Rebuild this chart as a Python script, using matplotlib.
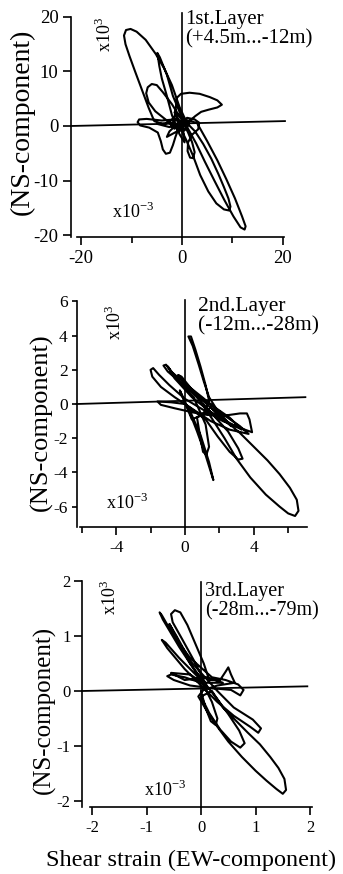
import matplotlib
matplotlib.use("Agg")
import matplotlib.pyplot as plt
from matplotlib.ticker import FixedLocator

plt.rcParams['font.family'] = ['Liberation Serif', 'DejaVu Serif']
plt.rcParams['mathtext.fontset'] = 'custom'
plt.rcParams['mathtext.rm'] = 'Liberation Serif'

# strain orbits, x = EW, y = NS (x10^-3)
orbit1 = [
    (0.0, 0.5), (-1.5, 1.2), (-4.0, 1.0), (-7.0, 1.3), (-8.5, 1.2), (-8.8, 0.7), (-8.3, 0.1),
    (-6.5, -0.3), (-4.8, -1.2), (-4.2, -2.8), (-3.8, -4.3), (-3.2, -5.1), (-2.4, -4.9),
    (-1.8, -3.5), (-1.3, -2.0), (-0.5, 0.0),
    (1.0, 1.5), (2.5, 1.2), (3.4, 0.6), (3.2, -0.6), (2.0, -1.6), (1.2, -3.0), (1.1, -4.6),
    (1.6, -5.8), (2.2, -5.9), (2.5, -4.8), (2.0, -3.0), (1.2, -1.2), (0.0, 1.0),
    (-2.0, 4.0), (-3.8, 6.2), (-5.0, 7.5), (-6.0, 7.7), (-6.8, 7.1), (-7.1, 6.0), (-6.6, 4.3),
    (-5.3, 2.7), (-3.0, 1.0), (-1.5, -0.5), (-0.5, 0.0),
    (0.8, -2.5), (2.2, -5.5), (3.6, -9.0), (5.2, -12.0), (6.8, -14.2), (8.3, -15.3),
    (9.3, -15.5), (9.6, -14.8), (9.2, -13.3), (8.3, -11.2), (7.2, -8.8), (5.8, -6.0),
    (4.2, -3.3), (2.6, -1.0), (1.0, 0.5),
    (-0.5, 3.5), (-2.0, 7.5), (-3.5, 10.5), (-5.2, 13.2), (-7.2, 15.8), (-9.0, 17.3),
    (-10.2, 17.8), (-11.1, 17.6), (-11.5, 16.6), (-11.2, 15.0), (-10.4, 12.8), (-9.3, 10.0),
    (-8.0, 6.8), (-6.6, 3.3), (-5.5, 0.9),
    (-3.5, 0.2), (-1.5, 1.5), (-1.2, 3.5), (-1.0, 5.2), (-0.2, 5.9), (1.5, 6.1), (3.5, 5.9),
    (5.5, 5.3), (7.0, 4.7), (7.9, 3.9), (7.0, 3.4), (5.3, 3.0), (3.8, 2.6), (2.6, 1.8), (1.0, 0.5),
    (-1.0, -1.0), (-3.0, -2.0), (-2.5, -1.0), (-0.5, 0.8), (1.5, 1.0),
    (3.0, 0.5), (5.0, -2.8), (7.0, -6.3), (8.8, -9.8), (10.5, -13.3), (11.9, -16.6),
    (12.6, -18.4), (12.4, -19.0), (11.6, -18.6), (10.2, -16.6), (8.4, -13.6), (6.4, -10.0),
    (4.5, -6.5), (2.8, -3.2), (1.2, -0.5), (0.0, 1.5),
    (-1.8, 5.5), (-3.0, 9.4), (-4.4, 12.6), (-4.9, 13.4), (-4.5, 11.0), (-4.0, 8.7),
    (-3.0, 5.5), (-2.0, 2.0), (-0.5, -1.5), (0.5, -3.0), (0.2, -0.5), (0.0, 0.0),
    (-1.0, 1.5), (-2.0, 0.5), (-0.5, -1.0), (1.0, 1.0), (-1.5, 2.5), (0.5, -0.8),
    (1.5, 0.5), (-0.8, -0.3), (-2.0, 0.6), (-5.0, 0.4), (-2.5, -0.2), (0.0, 0.3),
]

orbit2 = [
    (0.0, 0.0), (-0.8, 0.1), (-1.6, 0.15), (-1.4, -0.05), (-0.6, -0.25), (0.5, -0.5),
    (1.5, -0.65), (2.5, -0.65), (3.2, -0.55), (3.6, -0.55), (3.75, -0.9), (3.9, -1.65),
    (3.2, -1.4), (2.2, -1.0), (1.0, -0.3), (0.0, 0.3),
    (-0.9, 1.1), (-1.5, 1.7), (-1.85, 2.1), (-2.0, 2.0), (-1.9, 1.6), (-1.4, 1.0), (-0.6, 0.4),
    (0.3, -0.2), (1.5, -1.0), (2.6, -1.5), (3.7, -1.75), (3.2, -1.3), (2.2, -0.6), (1.0, 0.4),
    (0.0, 1.2), (-0.8, 1.9), (-1.1, 2.3), (-1.25, 2.25), (-1.0, 1.9), (-0.2, 1.2), (0.8, 0.4),
    (1.6, -0.3), (2.2, -0.9), (2.7, -1.3), (1.9, -0.4), (1.4, 0.4), (1.1, 1.3), (0.8, 2.3),
    (0.45, 3.4), (0.2, 3.95), (0.35, 3.95), (0.6, 3.2), (0.9, 2.2), (1.2, 1.1), (1.4, 0.2),
    (1.1, -0.6), (0.4, -0.9),
    (-0.3, 0.8), (0.2, -0.3), (0.7, -1.6), (1.2, -3.0), (1.65, -4.45), (1.4, -3.4),
    (0.9, -1.8), (0.2, -0.2),
    (1.2, -0.9), (1.9, -1.9), (2.6, -2.8), (3.1, -3.25), (3.35, -3.2), (3.1, -2.6), (2.5, -1.6),
    (1.6, -0.6),
    (1.0, 0.0), (1.6, -0.9), (2.3, -2.0), (3.0, -3.2), (3.8, -4.3), (4.7, -5.3), (5.5, -6.0),
    (6.0, -6.4), (6.4, -6.55), (6.6, -6.25), (6.5, -5.6), (6.1, -4.9), (5.5, -4.1), (4.8, -3.3),
    (4.0, -2.5), (3.2, -1.7), (2.4, -1.0), (1.5, -0.2),
    (0.7, -0.8), (0.9, -2.0), (1.05, -2.8), (1.25, -2.95), (1.4, -2.5), (1.2, -1.2),
    (0.5, 0.4), (-0.5, 1.5), (-1.0, 2.2), (-0.6, 1.5), (0.4, 0.4), (1.4, -0.4), (2.4, -1.0),
    (3.3, -1.5), (2.6, -0.8), (1.6, -0.1), (0.6, 0.6), (-0.2, 1.6), (-0.4, 1.7), (0.4, 0.7),
    (1.6, -0.6), (0.8, -0.6), (0.0, 0.0),
]

orbit3 = [
    (0.0, 0.15), (-0.3, 0.25), (-0.55, 0.3), (-0.62, 0.27), (-0.5, 0.2), (-0.2, 0.1),
    (0.2, 0.05), (0.55, 0.02), (0.72, -0.08), (0.78, 0.02), (0.68, 0.12), (0.45, 0.2), (0.2, 0.25),
    (-0.2, 0.6), (-0.5, 1.0), (-0.72, 1.38), (-0.76, 1.43), (-0.7, 1.3), (-0.4, 0.8),
    (-0.1, 0.35), (0.1, 0.1),
    (-0.1, 0.5), (-0.35, 0.95), (-0.52, 1.25), (-0.55, 1.4), (-0.48, 1.47), (-0.38, 1.43),
    (-0.25, 1.2), (-0.1, 0.85), (0.05, 0.5), (0.15, 0.2),
    (0.35, 0.2), (0.45, 0.35), (0.5, 0.43), (0.55, 0.3), (0.62, 0.15), (0.3, 0.1), (0.0, 0.0),
    (0.08, -0.3), (0.18, -0.55), (0.27, -0.62), (0.3, -0.5), (0.2, -0.2), (0.0, 0.2),
    (-0.4, 0.6), (-0.65, 0.88), (-0.72, 0.93), (-0.62, 0.78), (-0.3, 0.4), (0.0, 0.1),
    (0.3, -0.2), (0.6, -0.45), (0.9, -0.65), (1.05, -0.76), (1.1, -0.68), (0.95, -0.52),
    (0.6, -0.3), (0.3, 0.0),
    (-0.2, 0.55), (-0.45, 1.0), (-0.58, 1.22), (-0.52, 1.1), (-0.2, 0.5), (0.1, 0.1),
    (-0.05, -0.1), (0.1, -0.35), (0.3, -0.65), (0.5, -0.92), (0.75, -1.2), (1.0, -1.45),
    (1.2, -1.63), (1.38, -1.78), (1.5, -1.87), (1.56, -1.8), (1.53, -1.6), (1.42, -1.4),
    (1.27, -1.2), (1.08, -0.97), (0.86, -0.76), (0.62, -0.52), (0.4, -0.3), (0.2, 0.0),
    (0.0, -0.1), (0.15, -0.4), (0.35, -0.7), (0.55, -0.92), (0.72, -1.03), (0.8, -0.95),
    (0.7, -0.72), (0.5, -0.42), (0.3, -0.15), (0.1, 0.1),
    (-0.2, 0.3), (-0.55, 0.33), (-0.3, 0.2), (0.1, 0.25), (0.4, 0.15), (0.0, 0.15),
]

# reference cross lines (scan is slightly skewed)
hline1 = ([-22.0, 20.4], [0.0, 0.9])
vline1 = ([0.0, 0.0], [-20.4, 20.7])
hline2 = ([-6.3, 7.0], [0.0, 0.4])
vline2 = ([0.0, 0.0], [-7.2, 6.1])
hline3 = ([-2.18, 1.95], [0.0, 0.085])
vline3 = ([0.0, 0.0], [-2.11, 1.98])

yticks1 = [-20, -10, 0, 10, 20]
xticks1 = [-20, 0, 20]
xminor1 = [-10, 10]
yticks2 = [-6, -4, -2, 0, 2, 4, 6]
xticks2 = [-4, 0, 4]
xminor2 = [-6, -2, 2, 6]
yticks3 = [-2, -1, 0, 1, 2]
xticks3 = [-2, -1, 0, 1, 2]

layers = ["1st.Layer\n(+4.5m...-12m)", "2nd.Layer\n(-12m...-28m)", "3rd.Layer\n(-28m...-79m)"]

W, H = 343, 874
fig = plt.figure(figsize=(W / 100, H / 100), dpi=100)


def add_panel(box, xlim, ylim, orbit, hline, vline, yt, xt, xm, ybound, xbound, tsize, tlen):
    l, t, r, b = box
    ax = fig.add_axes([l / W, 1 - b / H, (r - l) / W, (b - t) / H])
    ax.set_xlim(*xlim)
    ax.set_ylim(*ylim)
    ax.patch.set_visible(False)
    for s in ['top', 'right']:
        ax.spines[s].set_visible(False)
    ax.spines['left'].set_bounds(*ybound)
    ax.spines['bottom'].set_bounds(*xbound)
    for s in ['left', 'bottom']:
        ax.spines[s].set_linewidth(1.2)
    ax.set_yticks(yt)
    ax.set_yticklabels([str(v) for v in yt])
    ax.set_xticks(xt)
    ax.set_xticklabels([str(v) for v in xt])
    if xm:
        ax.xaxis.set_minor_locator(FixedLocator(xm))
    ax.tick_params(which='major', direction='out', length=tlen, width=1.2, labelsize=tsize, pad=3)
    ax.tick_params(axis='x', which='major', length=6)
    ax.tick_params(which='minor', direction='out', length=4, width=1.2)
    ax.plot(*hline, color='black', lw=1.3, clip_on=False)
    ax.plot(*vline, color='black', lw=1.2, clip_on=False)
    xs = [p[0] for p in orbit]
    ys = [p[1] for p in orbit]
    ax.plot(xs, ys, color='black', lw=1.5, solid_joinstyle='round', clip_on=False)
    return ax


add_panel((71, 11.5, 288, 237.2), (-22, 21), (-20.4, 21), orbit1, hline1, vline1,
          yticks1, xticks1, xminor1, (-20.4, 20), (-20.8, 20.2), 13.5, 6)
add_panel((76.6, 296.3, 307.1, 527.1), (-6.3, 7.1), (-7.2, 6.3), orbit2, hline2, vline2,
          yticks2, xticks2, xminor2, (-7.2, 6), (-6.1, 7.1), 12.5, 3.5)
add_panel((82.2, 578.3, 315.5, 807), (-2.18, 2.1), (-2.11, 2.05), orbit3, hline3, vline3,
          yticks3, xticks3, None, (-2.11, 2), (-2.04, 2.04), 12, 5.5)


def ftext(x, y, s, **kw):
    fig.text(x / W, 1 - y / H, s, **kw)


# layer captions
for (x, y), s, fs in zip([(185, 10), (198, 297), (205, 582)], layers, [15, 15.5, 14.5]):
    ftext(x, y, s, ha='left', va='top', fontsize=fs, linespacing=1.05)

# scale notes
for (x, y) in [(105, 34), (115, 322), (110, 597)]:
    ftext(x, y, "x10$^{3}$", rotation=90, ha='center', va='center', fontsize=13)
for (x, y) in [(133, 212), (127, 503), (165, 790)]:
    ftext(x, y, "x10$^{-3}$", ha='center', va='center', fontsize=13)

# axis titles
for (x, y), fs in zip([(22, 122), (41, 422), (44, 710)], [20, 19, 18]):
    ftext(x, y, "(NS-component)", rotation=90, ha='center', va='center', fontsize=fs)
ftext(191, 860, "Shear strain (EW-component)", ha='center', va='center', fontsize=17.5)

fig.savefig("out.png", dpi=100)
